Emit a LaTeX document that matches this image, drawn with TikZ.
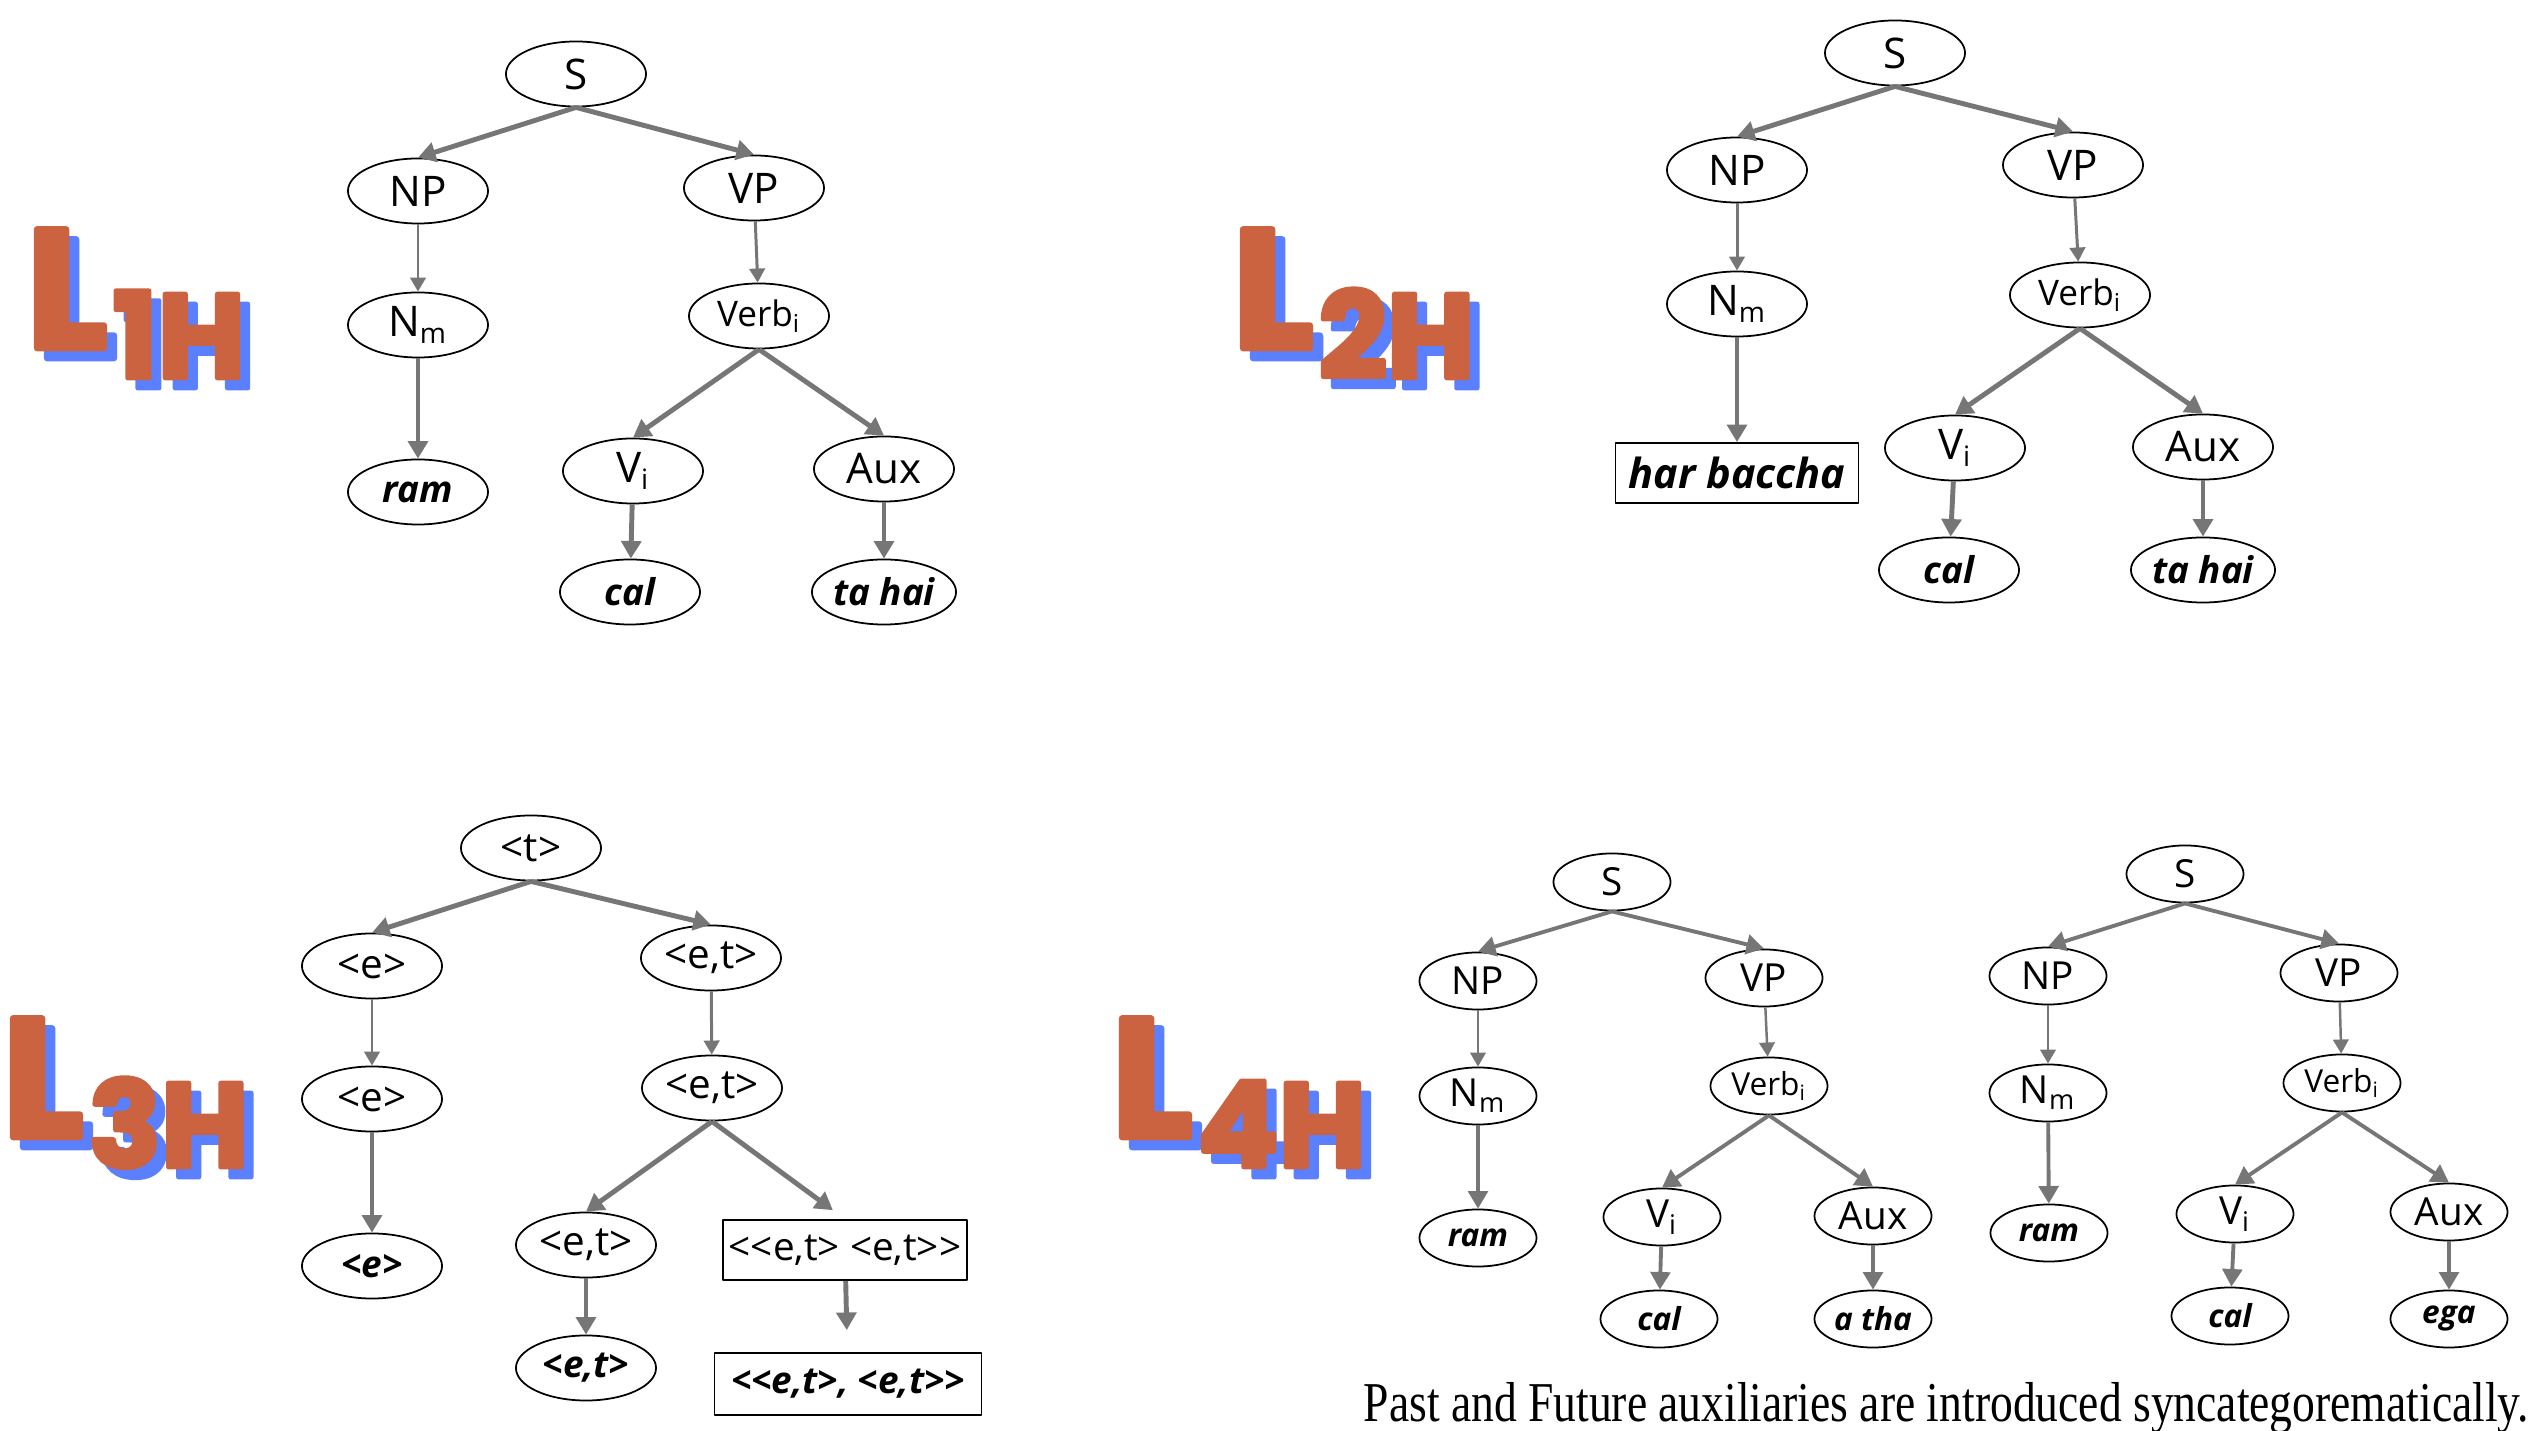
\documentclass[tikz,border=0pt]{standalone}
\usepackage{fontspec}
\setmainfont{Open Sans}
\newfontfamily\logofont{Poppins}[FakeBold=4]
\newfontfamily\notefont{Liberation Serif}[FakeStretch=0.81]
\usetikzlibrary{shapes.geometric,arrows.meta}
\definecolor{logoorange}{RGB}{204,99,64}
\definecolor{logoblue}{RGB}{90,127,255}
\definecolor{edgegray}{RGB}{118,118,118}
\newcommand{\shadowed}[1]{\rlap{\hspace{0.1cm}\raisebox{-0.1cm}{\color{logoblue}#1}}#1}
\begin{document}
\begin{tikzpicture}[x=0.01cm,y=-0.01cm,line join=round,font=\fontsize{12}{14}\selectfont]
\tikzset{
  cat/.style={draw,ellipse,line width=0.5pt,inner sep=0pt,minimum width=1.4cm,minimum height=0.65cm},
  verb/.style={cat,font=\fontsize{10}{12}\selectfont},
  type/.style={cat,font=\fontsize{11.5}{13}\selectfont},
  word/.style={cat,font=\fontsize{10.5}{12}\selectfont\bfseries\itshape},
  wordbox/.style={draw,rectangle,line width=0.5pt,inner sep=0pt,minimum height=0.6cm},
  branch/.style={-{Triangle[width=5.6pt,length=5pt]},draw=edgegray,line width=1.4pt},
  link/.style={-{Triangle[width=4.4pt,length=4pt]},draw=edgegray,line width=0.85pt},
  logo/.style={logoorange,font=\logofont\bfseries\fontsize{48}{48}\selectfont,inner sep=0pt,anchor=base west},
  logosub/.style={logo,font=\logofont\bfseries\fontsize{34}{34}\selectfont}
}
\useasboundingbox (0,0) rectangle (2538,1431);

% the four labels
\foreach \i/\x/\y in {1/32/348,2/1238/348,3/8/1137,4/1117/1137}{
  \node[logo] (L\i) at (\x-6,\y) {\makebox[0.78cm][l]{\shadowed{L}}};
  \node[logosub] (H\i) at (\x+80,\y+30) {\shadowed{\i H}};
}

% L1H
\node[cat] (s1) at (576,74) {S};
\node[cat] (np1) at (418,191) {NP};
\node[cat] (vp1) at (754,188) {VP};
\node[cat] (nm1) at (418,325) {N\textsubscript{m}};
\node[verb] (verb1) at (759,316) {Verb\textsubscript{i}};
\node[word] (ram1) at (418,492) {ram};
\node[cat] (vi1) at (633,471) {V\textsubscript{i}};
\node[cat] (aux1) at (884,469) {Aux};
\node[word] (cal1) at (630,592) {cal};
\node[word] (tahai1) at (884,592) {ta hai};
\draw[branch] (s1.south) -- (np1.north);
\draw[branch] (s1.south) -- (vp1.north);
\draw[link] (np1) -- (nm1);
\draw[branch] (nm1) -- (ram1);
\draw[link] (vp1) -- (verb1);
\draw[branch] (verb1.south) -- (vi1.north);
\draw[branch] (verb1.south) -- (aux1.north);
\draw[branch] (vi1) -- (cal1);
\draw[branch] (aux1) -- (tahai1);

% L2H
\node[cat] (s2) at (1895,53) {S};
\node[cat] (np2) at (1737,170) {NP};
\node[cat] (vp2) at (2073,165) {VP};
\node[cat] (nm2) at (1737,304) {N\textsubscript{m}};
\node[verb] (verb2) at (2080,295) {Verb\textsubscript{i}};
\node[wordbox,minimum width=2.43cm,font=\fontsize{11.8}{13}\selectfont\bfseries\itshape] (hb2) at (1737,473) {har baccha};
\node[cat] (vi2) at (1955,448) {V\textsubscript{i}};
\node[cat] (aux2) at (2203,447) {Aux};
\node[word] (cal2) at (1949,570) {cal};
\node[word] (tahai2) at (2203,570) {ta hai};
\draw[branch] (s2.south) -- (np2.north);
\draw[branch] (s2.south) -- (vp2.north);
\draw[link] (np2) -- (nm2);
\draw[branch] (nm2) -- (hb2);
\draw[link] (vp2) -- (verb2);
\draw[branch] (verb2.south) -- (vi2.north);
\draw[branch] (verb2.south) -- (aux2.north);
\draw[branch] (vi2) -- (cal2);
\draw[branch] (aux2) -- (tahai2);

% L3H
\node[type] (t3) at (531,848) {<t>};
\node[type] (e3) at (372,966) {<e>};
\node[type] (et3) at (711,958) {<e,t>};
\node[type] (ee3) at (372,1099) {<e>};
\node[type] (eet3) at (712,1088) {<e,t>};
\node[word] (ew3) at (372,1266) {<e>};
\node[type] (etl3) at (586,1245) {<e,t>};
\node[wordbox,minimum width=2.44cm,font=\fontsize{11}{13}\selectfont] (fb3) at (845,1250) {<{}<e,t> <e,t>{}>};
\node[word] (etw3) at (586,1368) {<e,t>};
\node[wordbox,minimum width=2.67cm,minimum height=0.62cm,font=\fontsize{10.5}{12}\selectfont\bfseries\itshape] (fw3) at (848,1384) {<{}<e,t>, <e,t>{}>};
\draw[branch] (t3.south) -- (e3.north);
\draw[branch] (t3.south) -- (et3.north);
\draw[link] (e3) -- (ee3);
\draw[branch] (ee3) -- (ew3);
\draw[link] (et3) -- (eet3);
\draw[branch] (eet3.south) -- (etl3.north);
\draw[branch,shorten >=0.15cm] (eet3.south) -- (fb3.north);
\draw[branch] (etl3) -- (etw3);
\draw[branch,shorten >=0.22cm] (fb3) -- (fw3);

% L4H
\begin{scope}[cat/.append style={minimum width=1.17cm,minimum height=0.57cm,font=\fontsize{11}{13}\selectfont},
  verb/.append style={font=\fontsize{9}{10}\selectfont},
  word/.append style={font=\fontsize{9}{10}\selectfont\bfseries\itshape},
  branch/.append style={line width=1.1pt},link/.append style={line width=0.7pt}]
\node[cat] (s4) at (1612,882) {S};
\node[cat] (np4) at (1478,981) {NP};
\node[cat] (vp4) at (1764,978) {VP};
\node[cat] (nm4) at (1478,1096) {N\textsubscript{m}};
\node[verb] (verb4) at (1769,1086) {Verb\textsubscript{i}};
\node[word] (ram4) at (1478,1238) {ram};
\node[cat] (vi4) at (1662,1217) {V\textsubscript{i}};
\node[cat] (aux4) at (1873,1216) {Aux};
\node[word] (cal4) at (1659,1319) {cal};
\node[word] (atha4) at (1873,1319) {a tha};
\draw[branch] (s4.south) -- (np4.north);
\draw[branch] (s4.south) -- (vp4.north);
\draw[link] (np4) -- (nm4);
\draw[branch] (nm4) -- (ram4);
\draw[link] (vp4) -- (verb4);
\draw[branch] (verb4.south) -- (vi4.north);
\draw[branch] (verb4.south) -- (aux4.north);
\draw[branch] (vi4) -- (cal4);
\draw[branch] (aux4) -- (atha4);

\node[cat] (s5) at (2185,874) {S};
\node[cat] (np5) at (2048,976) {NP};
\node[cat] (vp5) at (2339,973) {VP};
\node[cat] (nm5) at (2048,1093) {N\textsubscript{m}};
\node[verb] (verb5) at (2342,1083) {Verb\textsubscript{i}};
\node[word] (ram5) at (2049,1233) {ram};
\node[cat] (vi5) at (2235,1214) {V\textsubscript{i}};
\node[cat] (aux5) at (2449,1212) {Aux};
\node[word] (cal5) at (2230,1316) {cal};
\node[word] (ega5) at (2449,1319) {ega};
\draw[branch] (s5.south) -- (np5.north);
\draw[branch] (s5.south) -- (vp5.north);
\draw[link] (np5) -- (nm5);
\draw[branch] (nm5) -- (ram5);
\draw[link] (vp5) -- (verb5);
\draw[branch] (verb5.south) -- (vi5.north);
\draw[branch] (verb5.south) -- (aux5.north);
\draw[branch] (vi5) -- (cal5);
\draw[branch] (aux5) -- (ega5);
\end{scope}

\node[anchor=base west,inner sep=0pt,font=\notefont\fontsize{16}{18}\selectfont] (note) at (1363,1422) {Past and Future auxiliaries are introduced syncategorematically.};
\end{tikzpicture}
\end{document}
